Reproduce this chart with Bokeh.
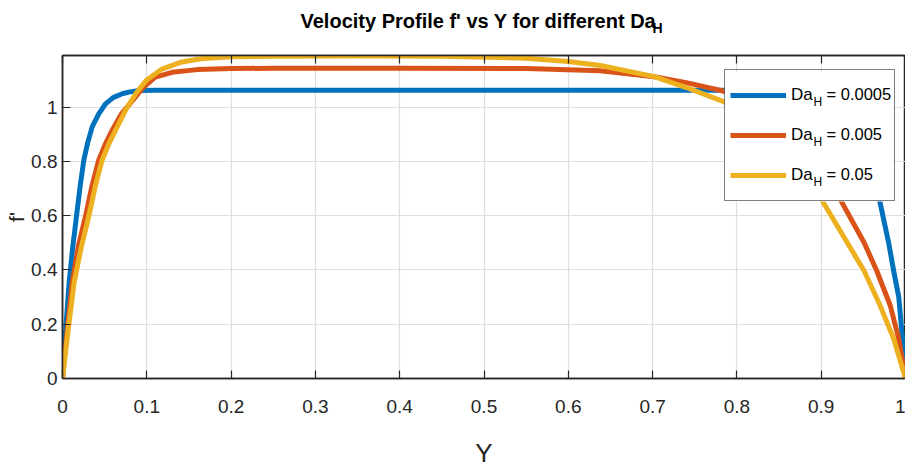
from bokeh.plotting import figure
from bokeh.layouts import column
from bokeh.models import (Range1d, LinearAxis, FixedTicker, CustomJSTickFormatter,
                          Label, Legend, LegendItem, BoxAnnotation)
from bokeh.embed import file_html
from bokeh.resources import INLINE

# ---------------- data ----------------
series_names = ["0.0005", "0.005", "0.05"]

y_a = [0, 0.004, 0.0079, 0.012, 0.0166, 0.021, 0.0253, 0.030, 0.0352, 0.043, 0.051, 0.060,
       0.0708, 0.080, 0.091, 0.11, 0.15, 0.3, 0.5, 0.7, 0.78, 0.85, 0.87, 0.89, 0.91, 0.925,
       0.94, 0.955, 0.97, 0.98, 0.986, 0.992, 0.996, 1.0]
f_a = [0, 0.19, 0.354, 0.48, 0.598, 0.71, 0.805, 0.87, 0.927, 0.975, 1.012, 1.035,
       1.049, 1.056, 1.061, 1.062, 1.062, 1.062, 1.062, 1.062, 1.062, 1.061, 1.058, 1.05, 1.03, 1.0,
       0.945, 0.84, 0.646, 0.5, 0.396, 0.30, 0.16, 0.0]

y_b = [0, 0.005, 0.0115, 0.019, 0.0273, 0.035, 0.043, 0.051, 0.059, 0.07, 0.083, 0.095, 0.110,
       0.13, 0.16, 0.2, 0.25, 0.4, 0.55, 0.638, 0.702, 0.74, 0.781, 0.8, 0.82, 0.84, 0.86, 0.88,
       0.9, 0.925, 0.951, 0.966, 0.982, 0.992, 1.0]
f_b = [0, 0.16, 0.354, 0.49, 0.598, 0.71, 0.805, 0.865, 0.915, 0.975, 1.024, 1.07, 1.11,
       1.128, 1.138, 1.142, 1.143, 1.143, 1.142, 1.134, 1.112, 1.09, 1.061, 1.045, 1.02, 0.985, 0.94, 0.875,
       0.79, 0.646, 0.5, 0.396, 0.268, 0.146, 0.0]

y_c = [0, 0.006, 0.0138, 0.022, 0.0312, 0.039, 0.047, 0.055, 0.063, 0.075, 0.087, 0.1, 0.118,
       0.14, 0.164, 0.2, 0.25, 0.35, 0.45, 0.55, 0.6, 0.638, 0.702, 0.74, 0.781, 0.8, 0.82, 0.84,
       0.86, 0.88, 0.903, 0.931, 0.951, 0.970, 0.986, 1.0]
f_c = [0, 0.16, 0.354, 0.48, 0.598, 0.71, 0.805, 0.865, 0.915, 0.99, 1.05, 1.10, 1.14,
       1.165, 1.178, 1.185, 1.187, 1.188, 1.187, 1.18, 1.168, 1.153, 1.112, 1.072, 1.024, 0.998, 0.965, 0.92,
       0.86, 0.775, 0.646, 0.5, 0.396, 0.268, 0.146, 0.0]

x_ticks = [0, 0.1, 0.2, 0.3, 0.4, 0.5, 0.6, 0.7, 0.8, 0.9, 1.0]
y_ticks = [0, 0.2, 0.4, 0.6, 0.8, 1.0]

colors = ["#0072BD", "#D95319", "#EDB120"]

FONT = "Liberation Sans"
DARK = "#262626"

# ---------------- title strip ----------------
tfig = figure(width=905, height=53, output_backend="svg", toolbar_location=None,
              x_range=Range1d(0, 1), y_range=Range1d(0, 1),
              x_axis_type=None, y_axis_type=None, min_border=0)
tfig.outline_line_color = None
tfig.grid.visible = False
tfig.add_layout(Label(x=300, y=31, x_units="canvas", y_units="canvas",
                      text="Velocity Profile f' vs Y for different Da",
                      text_font_size="20px", text_font_style="bold", text_color="black"))
tfig.add_layout(Label(x=652, y=35, x_units="canvas", y_units="canvas", text="H",
                      text_font_size="14px", text_font_style="bold", text_color="black"))

# ---------------- main plot ----------------
p = figure(width=905, height=417, output_backend="svg", toolbar_location=None,
           x_range=Range1d(0, 1), y_range=Range1d(0, 1.19),
           min_border_left=62, min_border_right=0, min_border_top=2, min_border_bottom=90)
p.outline_line_color = DARK
p.outline_line_width = 1.5

fmt = CustomJSTickFormatter(code="return Number(tick.toFixed(2)).toString();")
blank = CustomJSTickFormatter(code="return '';")

for ax in (p.xaxis[0], p.yaxis[0]):
    ax.major_tick_in = 8
    ax.major_tick_out = 0
    ax.minor_tick_line_color = None
    ax.axis_line_color = DARK
    ax.axis_line_width = 1.5
    ax.major_tick_line_color = DARK
    ax.major_tick_line_width = 1.2
    ax.major_label_text_font = FONT
    ax.major_label_text_font_size = "19px"
    ax.major_label_text_color = DARK
    ax.axis_label_text_font = FONT
    ax.axis_label_text_font_style = "normal"
    ax.axis_label_text_color = DARK
    ax.formatter = fmt

p.xaxis[0].ticker = FixedTicker(ticks=x_ticks)
p.yaxis[0].ticker = FixedTicker(ticks=y_ticks)
p.xaxis[0].major_label_standoff = 21
p.yaxis[0].major_label_standoff = 5
p.xaxis[0].axis_label = "Y"
p.xaxis[0].axis_label_text_font_size = "26px"
p.xaxis[0].axis_label_standoff = 22
p.yaxis[0].axis_label = "f'"
p.yaxis[0].axis_label_text_font_size = "21px"
p.yaxis[0].axis_label_standoff = 0

top = LinearAxis(ticker=FixedTicker(ticks=x_ticks), formatter=blank)
top.major_tick_in = 8
top.major_tick_out = 0
top.minor_tick_line_color = None
top.axis_line_color = DARK
top.axis_line_width = 1.5
top.major_tick_line_color = DARK
top.major_tick_line_width = 1.2
top.major_label_standoff = 0
top.major_label_text_font_size = "0px"
p.add_layout(top, "above")

p.xgrid.ticker = FixedTicker(ticks=x_ticks)
p.ygrid.ticker = FixedTicker(ticks=y_ticks)
p.xgrid.grid_line_color = "#dedede"
p.ygrid.grid_line_color = "#dedede"
p.xgrid.grid_line_width = 1.2
p.ygrid.grid_line_width = 1.2

renderers = []
for xs, ys, c in ((y_a, f_a, colors[0]), (y_b, f_b, colors[1]), (y_c, f_c, colors[2])):
    r = p.line(xs, ys, line_color=c, line_width=5, line_join="round")
    renderers.append(r)

# white backing of the legend box (frame-relative pixels)
p.add_layout(BoxAnnotation(left=662, right=831, bottom=177, top=307,
                           left_units="screen", right_units="screen",
                           bottom_units="screen", top_units="screen",
                           fill_color="white", fill_alpha=1, line_color=None))

legend = Legend(items=[LegendItem(label="Da", renderers=[r]) for r in renderers],
                location=(662, 177), orientation="vertical",
                glyph_width=56, glyph_height=40, label_height=40, label_width=98,
                spacing=0, padding=5, margin=0, label_standoff=5,
                border_line_color="black", border_line_width=1.5,
                background_fill_alpha=0,
                label_text_font=FONT, label_text_font_size="17px", label_text_color="black")
p.add_layout(legend)

# subscript H and values of the legend entries (frame-relative pixels)
for i, name in enumerate(series_names):
    p.add_layout(Label(x=751, y=270 - 40 * i, x_units="screen", y_units="screen", text="H",
                       text_font_size="12px", text_color="black", level="overlay"))
    p.add_layout(Label(x=764, y=276 - 40 * i, x_units="screen", y_units="screen",
                       text="= " + name, text_font_size="16.5px", text_color="black",
                       level="overlay"))

layout = column(tfig, p, spacing=0)
open("out.html", "w").write(file_html(layout, INLINE))
